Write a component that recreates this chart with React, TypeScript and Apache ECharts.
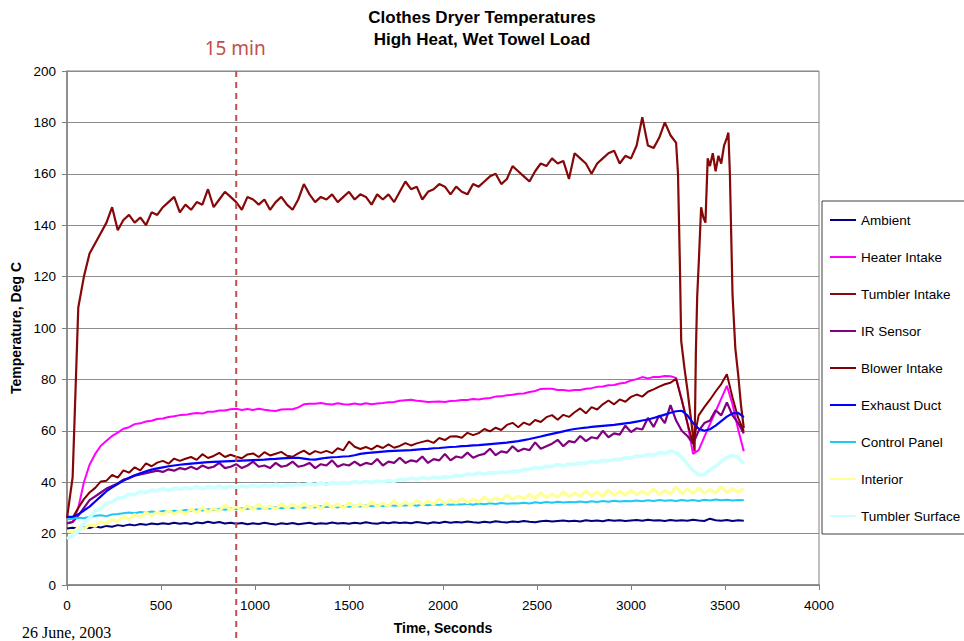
import React, { useEffect, useRef } from "react";
import * as echarts from "echarts";

const FONT = "'Liberation Sans', Arial, Helvetica, sans-serif";

// sampling grid of the logger (seconds)
const STEP = 30;
const times: number[] = Array.from({ length: 121 }, (_, i) => i * STEP);

const yTicksMax = 200;
const xTicksMax = 4000;
const MARK_TIME = 900; // 15 min
const MARK_LABEL = "15 min";
const DATE_TEXT = "26 June, 2003";

const seriesNames = [
  "Ambient",
  "Heater Intake",
  "Tumbler Intake",
  "IR Sensor",
  "Blower Intake",
  "Exhaust Duct",
  "Control Panel",
  "Interior",
  "Tumbler Surface",
];

const ambient = [
  22.0, 22.3, 21.9, 22.5, 22.2, 22.8, 22.4, 23.0, 22.7, 23.3,
  23.0, 23.5, 23.2, 23.7, 23.4, 23.9, 23.6, 24.0, 23.7, 24.2,
  23.8, 24.1, 23.7, 24.3, 24.0, 24.6, 24.1, 24.5, 23.9, 24.2,
  23.8, 24.1, 23.6, 24.0, 23.7, 24.2, 23.8, 23.5, 24.0, 23.7,
  24.1, 23.6, 23.9, 24.2, 23.7, 24.0, 23.8, 24.3, 23.9, 24.1,
  23.8, 24.2, 23.9, 24.4, 24.0, 23.8, 24.3, 24.0, 24.4, 24.1,
  24.3, 24.0, 24.5, 24.2, 23.9, 24.4, 24.1, 24.6, 24.2, 24.5,
  24.3, 24.7, 24.4, 24.2, 24.6, 24.3, 24.8, 24.5, 24.3, 24.7,
  24.5, 24.9, 24.6, 24.4, 24.8, 25.0, 24.7, 24.9, 25.1, 24.8,
  25.0, 24.7, 25.2, 24.9, 25.1, 24.8, 25.3, 25.0, 25.2, 24.9,
  25.1, 25.3, 25.0, 25.4, 25.1, 25.2, 24.9, 25.3, 25.0, 25.2,
  25.0, 25.4, 25.1, 24.9, 25.8, 25.2, 25.0, 25.3, 24.9, 25.2,
  25.0,
];

const heaterIntake = [
  24.0, 24.5, 30.0, 40.0, 46.8, 51.0, 54.2, 56.1, 58.0, 59.3,
  60.8, 61.4, 62.6, 62.9, 63.6, 63.9, 64.6, 64.8, 65.4, 65.7,
  66.1, 66.2, 66.6, 66.9, 66.7, 67.4, 67.4, 67.9, 67.9, 68.4,
  68.6, 68.1, 68.5, 68.1, 68.6, 68.2, 67.9, 67.7, 68.3, 68.4,
  68.4, 69.1, 70.3, 70.5, 70.5, 70.8, 70.4, 70.2, 70.7, 70.3,
  70.2, 70.6, 70.2, 70.7, 70.3, 70.6, 70.8, 71.1, 71.2, 71.7,
  71.9, 72.1, 71.7, 71.5, 71.2, 71.3, 71.4, 71.2, 71.6, 71.7,
  72.0, 72.0, 72.4, 72.2, 72.6, 72.8, 73.3, 73.4, 73.8, 74.0,
  74.4, 74.5, 75.1, 75.5, 76.3, 76.4, 76.4, 75.9, 75.9, 75.6,
  75.9, 75.9, 76.4, 76.6, 77.1, 77.2, 77.7, 77.8, 78.4, 78.7,
  79.6, 80.1, 80.9, 80.4, 80.9, 80.9, 81.3, 81.2, 80.6, 72.0,
  63.0, 51.0, 52.5, 57.6, 62.6, 67.5, 72.5, 77.5, 70.3, 60.5,
  52.0,
];

// Tumbler Intake on the common grid up to 3240 s, then finer samples for the cool-down dips
const tumblerIntake = [
  26, 42, 108, 120, 129, 133, 137, 141, 147, 138,
  142, 144, 141, 143, 140, 145, 144, 147, 149, 151,
  145, 148, 146, 149, 148, 154, 147, 150, 153, 151,
  149, 146, 151, 150, 148, 150, 146, 149, 151, 148,
  146, 150, 156, 152, 149, 151, 150, 152, 149, 151,
  153, 150, 152, 151, 148, 152, 150, 152, 149, 153,
  157, 154, 155, 150, 153, 154, 156, 155, 152, 155,
  153, 152, 156, 155, 157, 159, 160, 156, 158, 163,
  161, 159, 157, 161, 164, 163, 166, 164, 165, 158,
  168, 166, 164, 160, 164, 166, 168, 169, 164, 167,
  166, 171, 182, 171, 170, 174, 180, 175, 172,
];
const tumblerTailTimes = [
  3250, 3260, 3267, 3285, 3300, 3315, 3330, 3338, 3345, 3352,
  3362, 3373, 3385, 3396, 3408, 3420, 3435, 3450, 3465, 3480,
  3495, 3510, 3518, 3526, 3540, 3555, 3570, 3585, 3600,
];
const tumblerTailValues = [
  160, 125, 95, 84, 76, 67, 58, 52, 90, 112,
  128, 147, 143, 141, 166, 163, 168, 161, 167, 164,
  171, 174, 176, 160, 113, 92, 82, 70, 61,
];

const irSensor = [
  24, 24.5, 27, 30, 33, 34.5, 36, 37.5, 38.5, 39.5,
  41, 41.5, 42.5, 43, 43.5, 44, 44.5, 44, 45, 44.5,
  45.5, 45, 46, 45, 46.5, 45.5, 46, 47.5, 45.5, 46,
  47, 45.5, 46.5, 48, 46, 46.5, 45.5, 47.5, 46, 46.5,
  48, 46, 46.5, 47.5, 45.5, 47, 46.5, 48.5, 46, 47,
  46.5, 48, 46.5, 47.5, 47, 49, 46.5, 48, 47.5, 49.5,
  47.5, 48.5, 48, 50, 47.5, 49, 48.5, 51, 48.5, 50,
  49.5, 51.5, 49.5, 50.5, 51, 53, 50.5, 52, 51.5, 54,
  52, 53, 52.5, 55.5, 53, 54, 55, 56.5, 54, 56,
  55.5, 58, 56, 57.5, 57, 60, 57.5, 59, 58.5, 62,
  59.5, 61, 60.5, 65, 61.5, 66, 63, 70, 64, 60,
  58, 55, 60, 63, 64, 68, 66, 71, 66, 63,
  59,
];

const blowerIntake = [
  26.5, 26.2, 30.0, 33.4, 36.0, 37.8, 40.3, 40.6, 42.8, 41.8,
  44.6, 43.7, 45.8, 44.6, 47.3, 46.2, 47.6, 48.3, 47.2, 49.2,
  48.3, 49.1, 49.8, 48.7, 50.9, 49.4, 50.2, 51.4, 49.8, 50.7,
  49.9, 49.3, 50.8, 51.2, 49.8, 51.7, 50.4, 51.1, 51.8, 50.3,
  49.9, 51.2, 52.3, 50.8, 52.1, 51.4, 52.2, 51.3, 53.2, 52.4,
  55.8, 53.8, 52.9, 53.7, 52.8, 54.2, 53.3, 54.7, 53.4, 54.1,
  55.2, 54.3, 55.1, 55.7, 56.2, 55.3, 57.2, 56.4, 57.8, 57.9,
  57.3, 59.2, 58.3, 59.1, 60.7, 59.8, 61.2, 60.3, 62.3, 63.1,
  61.4, 63.2, 62.3, 64.2, 63.4, 65.3, 66.1, 64.3, 66.2, 65.4,
  67.2, 68.7, 66.8, 69.2, 68.3, 70.3, 71.8, 70.3, 72.2, 71.3,
  73.2, 74.1, 73.3, 75.2, 76.1, 77.2, 78.1, 78.7, 80.2, 72.0,
  63.0, 55.0, 66.0, 69.2, 72.1, 75.3, 78.2, 82.0, 73.0, 65.0,
  60.0,
];

const exhaustDuct = [
  26.5, 26.5, 27.5, 29, 30.5, 32.5, 34.5, 36.5, 38, 39.3,
  40.6, 41.7, 42.7, 43.5, 44.2, 44.9, 45.4, 45.8, 46.2, 46.5,
  46.8, 47, 47.2, 47.4, 47.6, 47.8, 47.9, 48, 48.1, 48.2,
  48.3, 48.4, 48.5, 48.6, 48.7, 48.8, 49, 49.1, 49.3, 49.4,
  49.5, 49.5, 49.2, 48.9, 48.8, 49.2, 49.5, 49.7, 49.8, 50,
  50.1, 50.5, 51, 51.3, 51.5, 51.7, 51.9, 52.1, 52.2, 52.3,
  52.4, 52.5, 52.7, 52.9, 53, 53.2, 53.3, 53.5, 53.7, 53.8,
  54, 54.1, 54.3, 54.4, 54.6, 54.8, 55, 55.2, 55.4, 55.7,
  56, 56.4, 56.8, 57.3, 57.8, 58.3, 58.8, 59.3, 59.8, 60.3,
  60.7, 61, 61.2, 61.5, 61.7, 61.9, 62.1, 62.3, 62.6, 62.9,
  63.2, 63.6, 64, 64.4, 65, 65.6, 66.3, 67, 67.6, 67.8,
  66, 63, 60.8, 60, 60.6, 62, 63.8, 65.5, 66.8, 67,
  65.3,
];

const controlPanel = [
  25.5, 25.8, 26.2, 26.0, 26.6, 26.9, 27.1, 26.8, 27.4, 27.6,
  27.9, 28.2, 27.9, 28.4, 28.1, 28.6, 28.3, 28.8, 28.5, 28.9,
  28.7, 29.2, 28.9, 29.4, 29.0, 29.5, 29.2, 29.7, 29.3, 29.8,
  29.5, 29.9, 29.6, 30.1, 29.7, 30.0, 29.8, 30.3, 29.9, 30.2,
  30.0, 30.4, 30.1, 30.5, 30.2, 30.6, 30.3, 30.5, 30.2, 30.7,
  30.4, 30.8, 30.5, 30.9, 30.6, 31.0, 30.7, 31.1, 30.8, 31.0,
  30.9, 31.2, 30.8, 31.3, 31.0, 31.4, 31.1, 31.5, 31.2, 31.4,
  31.3, 31.6, 31.2, 31.7, 31.4, 31.8, 31.5, 31.9, 31.6, 31.8,
  31.7, 32.0, 31.7, 32.2, 31.9, 32.3, 32.0, 32.4, 32.1, 32.3,
  32.2, 32.5, 32.2, 32.6, 32.3, 32.7, 32.4, 32.8, 32.5, 32.7,
  32.6, 32.9, 32.6, 33.0, 32.7, 33.1, 32.8, 33.0, 32.7, 33.1,
  32.8, 33.1, 32.7, 33.2, 32.9, 33.3, 33.0, 33.2, 32.9, 33.1,
  33.0,
];

const interior = [
  21.0, 20.5, 22.3, 21.8, 23.5, 22.9, 24.6, 23.8, 25.5, 24.7,
  26.8, 25.6, 27.4, 26.3, 28.2, 26.9, 28.5, 27.2, 29.0, 27.6,
  28.9, 27.5, 29.6, 28.0, 30.3, 28.4, 29.8, 28.7, 31.2, 29.0,
  30.6, 28.9, 30.9, 29.3, 31.5, 29.6, 30.8, 29.4, 31.6, 29.8,
  31.4, 29.7, 31.8, 30.0, 31.2, 29.6, 32.0, 30.1, 31.5, 29.9,
  32.1, 30.3, 31.6, 30.2, 32.4, 30.5, 31.9, 30.6, 32.8, 30.8,
  32.3, 30.9, 33.0, 31.2, 32.7, 31.4, 33.5, 31.6, 33.1, 31.9,
  33.8, 32.0, 33.4, 32.3, 34.2, 32.6, 33.9, 32.9, 35.0, 33.3,
  34.6, 33.5, 35.3, 33.8, 35.9, 34.0, 35.4, 34.2, 36.3, 34.4,
  35.8, 34.5, 36.6, 34.7, 36.1, 34.6, 37.0, 34.9, 36.4, 35.0,
  36.9, 35.1, 36.5, 35.3, 37.4, 35.2, 36.8, 35.4, 38.2, 35.5,
  37.3, 35.6, 37.8, 35.7, 37.1, 35.8, 38.4, 35.9, 37.5, 36.1,
  37.6,
];

const tumblerSurface = [
  18.0, 19.2, 20.8, 23.9, 26.2, 28.8, 29.7, 31.9, 32.3, 33.8,
  34.0, 35.3, 35.2, 36.3, 35.9, 36.9, 36.7, 37.5, 36.8, 37.7,
  37.3, 37.8, 37.5, 38.3, 37.4, 38.2, 37.8, 38.5, 37.7, 38.4,
  37.8, 38.5, 38.1, 38.7, 38.2, 38.8, 38.4, 39.2, 38.3, 39.0,
  38.7, 39.2, 38.9, 39.5, 39.0, 39.8, 39.1, 39.9, 39.5, 39.8,
  39.6, 40.3, 39.7, 40.4, 39.8, 40.5, 40.2, 40.6, 40.3, 41.1,
  40.8, 41.6, 41.0, 41.8, 41.3, 42.0, 41.7, 42.1, 42.0, 42.7,
  42.5, 43.2, 42.9, 43.6, 43.1, 43.8, 43.6, 44.0, 43.8, 44.3,
  44.2, 45.0, 45.0, 45.7, 45.5, 46.2, 46.1, 46.9, 46.4, 47.1,
  47.0, 47.5, 47.4, 48.1, 47.8, 48.5, 48.3, 48.9, 48.8, 49.5,
  49.4, 50.2, 50.1, 50.8, 50.5, 51.5, 51.2, 52.1, 51.6, 49.6,
  47.0, 44.6, 42.8, 43.1, 44.7, 46.2, 48.1, 49.6, 50.4, 49.7,
  47.3,
];

const seriesColors = [
  "#000080",
  "#ff00ff",
  "#860808",
  "#800080",
  "#800000",
  "#0000ff",
  "#1ec8f5",
  "#ffff99",
  "#ccffff",
];

function pair(ts: number[], vs: number[]): number[][] {
  return vs.map((v, i) => [ts[i], v]);
}

export default function App() {
  const ref = useRef<HTMLDivElement>(null);

  useEffect(() => {
    if (!ref.current) return;
    const chart = echarts.init(ref.current, null, { renderer: "svg" });

    const tumblerData = pair(times, tumblerIntake).concat(
      pair(tumblerTailTimes, tumblerTailValues)
    );
    const allData = [
      pair(times, ambient),
      pair(times, heaterIntake),
      tumblerData,
      pair(times, irSensor),
      pair(times, blowerIntake),
      pair(times, exhaustDuct),
      pair(times, controlPanel),
      pair(times, interior),
      pair(times, tumblerSurface),
    ];
    const widths = [2, 2, 2.2, 2.2, 2, 2.2, 2, 3.2, 3.6];

    const option: any = {
      animation: false,
      backgroundColor: "#ffffff",
      title: {
        text: "Clothes Dryer Temperatures\nHigh Heat, Wet Towel Load",
        left: "center",
        top: 6,
        padding: 0,
        textStyle: {
          fontSize: 17,
          fontWeight: "bold",
          fontFamily: FONT,
          color: "#000",
          lineHeight: 22,
          align: "center",
        },
      },
      grid: {
        left: 67,
        right: 145,
        top: 71,
        bottom: 56,
        show: true,
        borderColor: "#808080",
        borderWidth: 1,
        backgroundColor: "transparent",
      },
      legend: {
        orient: "vertical",
        left: 822,
        top: 201,
        padding: [12, 40, 11, 8],
        itemGap: 23,
        itemWidth: 26,
        itemHeight: 2,
        icon: "rect",
        borderColor: "#404040",
        borderWidth: 1,
        backgroundColor: "#ffffff",
        selectedMode: false,
        textStyle: { fontSize: 13.5, color: "#000", fontFamily: FONT },
        data: seriesNames,
      },
      xAxis: {
        type: "value",
        min: 0,
        max: xTicksMax,
        interval: 500,
        name: "Time, Seconds",
        nameLocation: "middle",
        nameGap: 36,
        nameTextStyle: { fontWeight: "bold", fontSize: 14, fontFamily: FONT, color: "#000" },
        axisLine: { show: true, lineStyle: { color: "#808080", width: 1.5 } },
        axisTick: { show: true, length: 5, lineStyle: { color: "#808080" } },
        axisLabel: {
          fontSize: 13.5,
          color: "#000",
          fontFamily: FONT,
          margin: 13,
          formatter: (v: number) => String(v),
        },
        splitLine: { show: false },
      },
      yAxis: {
        type: "value",
        min: 0,
        max: yTicksMax,
        interval: 20,
        name: "Temperature, Deg C",
        nameLocation: "middle",
        nameGap: 42,
        nameRotate: 90,
        nameTextStyle: { fontWeight: "bold", fontSize: 14, fontFamily: FONT, color: "#000" },
        axisLine: { show: true, lineStyle: { color: "#808080", width: 1.5 } },
        axisTick: { show: true, length: 5, lineStyle: { color: "#808080" } },
        axisLabel: {
          fontSize: 13.5,
          color: "#000",
          fontFamily: FONT,
          margin: 11,
          formatter: (v: number) => String(v),
        },
        splitLine: { show: true, lineStyle: { color: "#8c8c8c", width: 1 } },
      },
      series: seriesNames.map((name, i) => ({
        name,
        type: "line",
        data: allData[i],
        showSymbol: false,
        symbol: "none",
        color: seriesColors[i],
        lineStyle: { width: widths[i], color: seriesColors[i] },
        emphasis: { disabled: true },
        z: 2,
      })),
    };
    chart.setOption(option);

    const xMark = chart.convertToPixel({ xAxisIndex: 0 }, MARK_TIME) as number;
    chart.setOption({
      graphic: [
        {
          type: "line",
          z: 100,
          shape: { x1: xMark, y1: 71, x2: xMark, y2: 641 },
          style: { stroke: "#c0504d", lineWidth: 2, lineDash: [6, 5] },
        },
        {
          type: "text",
          z: 100,
          x: xMark - 1,
          y: 48,
          style: {
            text: MARK_LABEL,
            fill: "#c0504d",
            font: "19px 'Noto Sans', sans-serif",
            textAlign: "center",
            textVerticalAlign: "middle",
          },
        },
        {
          type: "text",
          z: 100,
          x: 22,
          y: 624,
          style: {
            text: DATE_TEXT,
            fill: "#000",
            font: "16px 'Liberation Serif', 'Times New Roman', serif",
            textAlign: "left",
            textVerticalAlign: "top",
          },
        },
      ],
    });

    return () => chart.dispose();
  }, []);

  return (
    <div
      ref={ref}
      style={{ position: "fixed", left: 0, top: 0, width: 964, height: 641 }}
    />
  );
}
